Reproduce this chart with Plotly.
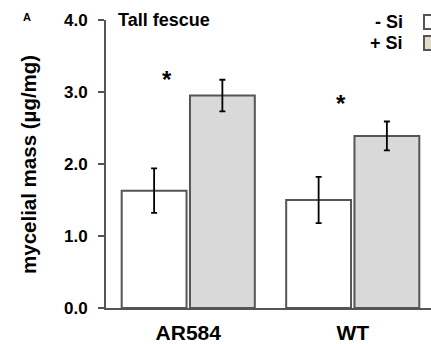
import plotly.graph_objects as go

categories = ["AR584", "WT"]
minus_si = [1.63, 1.50]
minus_si_err = [0.31, 0.32]
plus_si = [2.95, 2.39]
plus_si_err = [0.22, 0.20]
sig_x_offset = [-0.13, -0.07]
sig_y = [3.18, 2.84]
y_ticks = [0, 1, 2, 3, 4]
y_tick_labels = ["0.0", "1.0", "2.0", "3.0", "4.0"]

FONT = "Liberation Sans, Arial, sans-serif"
EDGE = "#555555"

fig = go.Figure()
fig.add_trace(go.Bar(
    name="- Si", x=categories, y=minus_si,
    marker=dict(color="white", line=dict(color=EDGE, width=2)),
    error_y=dict(type="data", array=minus_si_err, color="black", thickness=1.8, width=3),
))
fig.add_trace(go.Bar(
    name="+ Si", x=categories, y=plus_si,
    marker=dict(color="#d9d9d9", line=dict(color=EDGE, width=2)),
    error_y=dict(type="data", array=plus_si_err, color="black", thickness=1.8, width=3),
))

for i, (dx, sy) in enumerate(zip(sig_x_offset, sig_y)):
    fig.add_annotation(x=i + dx, y=sy, xref="x", yref="y", text="*", showarrow=False,
                       font=dict(family=FONT, size=24, color="black", weight="bold"),
                       xanchor="center", yanchor="middle")

W, H = 431, 344
L, R, T, B = 106, 0, 20, 36
pw, ph = W - L - R, H - T - B

def px(x):
    return (x - L) / pw

def py(y):
    return (H - B - y) / ph

# panel letter
fig.add_annotation(x=px(27), y=py(17), xref="paper", yref="paper", text="A", showarrow=False,
                   font=dict(family=FONT, size=11, color="black", weight="bold"),
                   xanchor="center", yanchor="middle")
# title
fig.add_annotation(x=px(116), y=py(20), xref="paper", yref="paper", text="Tall fescue", showarrow=False,
                   font=dict(family=FONT, size=18, color="black", weight="bold"),
                   xanchor="left", yanchor="middle")
# y axis title
fig.add_annotation(x=px(28), y=py(165), xref="paper", yref="paper", text="mycelial mass (µg/mg)",
                   showarrow=False, textangle=-90,
                   font=dict(family=FONT, size=20.5, color="black", weight="bold"),
                   xanchor="center", yanchor="middle")
# legend
for label, fill, yc in [("- Si", "white", 22), ("+ Si", "#e0dcc6", 43)]:
    fig.add_annotation(x=px(405), y=py(yc), xref="paper", yref="paper", text=label, showarrow=False,
                       font=dict(family=FONT, size=18, color="black", weight="bold"),
                       xanchor="right", yanchor="middle")
    fig.add_shape(type="rect", xref="paper", yref="paper",
                  x0=px(424), x1=px(440), y0=py(yc + 7), y1=py(yc - 7),
                  fillcolor=fill, line=dict(color=EDGE, width=2))

fig.update_layout(
    width=W, height=H,
    margin=dict(l=L, r=R, t=T, b=B, pad=0),
    paper_bgcolor="white", plot_bgcolor="white",
    barmode="group", bargap=0.17, bargroupgap=0.05,
    showlegend=False,
    font=dict(family=FONT, color="black"),
)
fig.update_xaxes(
    type="category", range=[-0.5, -0.5 + pw / 164.5],
    showline=True, linecolor=EDGE, linewidth=2, ticks="", showgrid=False, zeroline=False,
    ticklabelstandoff=5,
    tickfont=dict(family=FONT, size=21, color="black", weight="bold"),
)
fig.update_yaxes(
    range=[0, 4], tickvals=y_ticks, ticktext=y_tick_labels,
    showline=True, linecolor=EDGE, linewidth=2, ticks="outside", ticklen=6, tickwidth=2,
    tickcolor=EDGE, showgrid=False, zeroline=False, ticklabelstandoff=7,
    tickfont=dict(family=FONT, size=17, color="black", weight="bold"),
)

fig.write_html("out.html", config={"displayModeBar": False},
               post_script="document.body.style.margin='0';document.body.style.overflow='hidden';")
